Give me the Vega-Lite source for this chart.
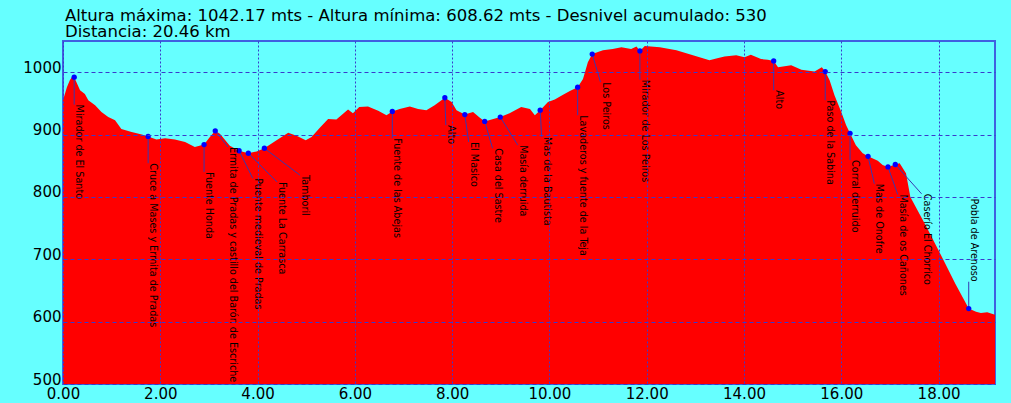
{
  "$schema": "https://vega.github.io/schema/vega-lite/v6.json",
  "width": 932,
  "height": 343,
  "autosize": {"type": "none"},
  "padding": {"left": 63, "top": 41, "right": 16, "bottom": 19},
  "background": "#66FFFF",
  "title": {
    "text": ["Altura máxima: 1042.17 mts - Altura mínima: 608.62 mts - Desnivel acumulado: 530", "Distancia: 20.46 km"],
    "anchor": "start",
    "frame": "group",
    "font": "DejaVu Sans",
    "fontSize": 16.5,
    "fontWeight": "normal",
    "color": "#000000",
    "lineHeight": 16.6,
    "offset": 0,
    "dx": 2
  },
  "config": {
    "view": {"stroke": "#4060E0", "strokeWidth": 2, "fill": null}
  },
  "datasets": {
    "profile": [
      {"km": 0.0, "elev": 955}, {"km": 0.08, "elev": 976}, {"km": 0.14, "elev": 987}, {"km": 0.21, "elev": 995},
      {"km": 0.27, "elev": 985}, {"km": 0.35, "elev": 971}, {"km": 0.45, "elev": 965}, {"km": 0.52, "elev": 955},
      {"km": 0.66, "elev": 947}, {"km": 0.79, "elev": 936}, {"km": 0.93, "elev": 928}, {"km": 1.07, "elev": 923},
      {"km": 1.2, "elev": 909}, {"km": 1.41, "elev": 904}, {"km": 1.62, "elev": 900}, {"km": 1.75, "elev": 897},
      {"km": 1.92, "elev": 892}, {"km": 2.1, "elev": 894}, {"km": 2.3, "elev": 892}, {"km": 2.51, "elev": 888},
      {"km": 2.71, "elev": 880}, {"km": 2.9, "elev": 884}, {"km": 3.02, "elev": 896}, {"km": 3.13, "elev": 906},
      {"km": 3.23, "elev": 901}, {"km": 3.43, "elev": 882}, {"km": 3.62, "elev": 874}, {"km": 3.81, "elev": 870},
      {"km": 3.98, "elev": 873}, {"km": 4.14, "elev": 878}, {"km": 4.39, "elev": 891}, {"km": 4.63, "elev": 903},
      {"km": 4.8, "elev": 898}, {"km": 4.99, "elev": 891}, {"km": 5.11, "elev": 896}, {"km": 5.28, "elev": 911},
      {"km": 5.45, "elev": 925}, {"km": 5.62, "elev": 924}, {"km": 5.86, "elev": 940}, {"km": 5.96, "elev": 934},
      {"km": 6.09, "elev": 944}, {"km": 6.27, "elev": 945}, {"km": 6.48, "elev": 938}, {"km": 6.65, "elev": 931},
      {"km": 6.77, "elev": 937}, {"km": 6.92, "elev": 941}, {"km": 7.13, "elev": 945}, {"km": 7.3, "elev": 941},
      {"km": 7.47, "elev": 939}, {"km": 7.64, "elev": 947}, {"km": 7.85, "elev": 959}, {"km": 7.99, "elev": 952},
      {"km": 8.09, "elev": 939}, {"km": 8.26, "elev": 932}, {"km": 8.43, "elev": 936}, {"km": 8.57, "elev": 927},
      {"km": 8.67, "elev": 921}, {"km": 8.81, "elev": 924}, {"km": 8.99, "elev": 928}, {"km": 9.18, "elev": 934},
      {"km": 9.42, "elev": 944}, {"km": 9.6, "elev": 941}, {"km": 9.7, "elev": 931}, {"km": 9.81, "elev": 939},
      {"km": 9.97, "elev": 952}, {"km": 10.11, "elev": 956}, {"km": 10.28, "elev": 964}, {"km": 10.42, "elev": 970},
      {"km": 10.58, "elev": 976}, {"km": 10.69, "elev": 989}, {"km": 10.79, "elev": 1016}, {"km": 10.88, "elev": 1029},
      {"km": 11.1, "elev": 1035}, {"km": 11.3, "elev": 1037}, {"km": 11.48, "elev": 1040}, {"km": 11.68, "elev": 1037},
      {"km": 11.79, "elev": 1041}, {"km": 11.86, "elev": 1034}, {"km": 11.96, "elev": 1042}, {"km": 12.27, "elev": 1040},
      {"km": 12.61, "elev": 1035}, {"km": 12.95, "elev": 1027}, {"km": 13.29, "elev": 1019}, {"km": 13.43, "elev": 1022},
      {"km": 13.6, "elev": 1025}, {"km": 13.84, "elev": 1027}, {"km": 14.01, "elev": 1024}, {"km": 14.14, "elev": 1028},
      {"km": 14.35, "elev": 1021}, {"km": 14.49, "elev": 1020}, {"km": 14.61, "elev": 1018}, {"km": 14.7, "elev": 1008},
      {"km": 14.97, "elev": 1011}, {"km": 15.18, "elev": 1004}, {"km": 15.45, "elev": 1001}, {"km": 15.6, "elev": 1008},
      {"km": 15.67, "elev": 1001}, {"km": 15.76, "elev": 987}, {"km": 15.86, "elev": 963}, {"km": 16.0, "elev": 936},
      {"km": 16.1, "elev": 915}, {"km": 16.18, "elev": 902}, {"km": 16.3, "elev": 883}, {"km": 16.44, "elev": 870},
      {"km": 16.55, "elev": 865}, {"km": 16.75, "elev": 858}, {"km": 16.85, "elev": 851}, {"km": 16.96, "elev": 848},
      {"km": 17.11, "elev": 852}, {"km": 17.2, "elev": 854}, {"km": 17.33, "elev": 838}, {"km": 17.42, "elev": 800},
      {"km": 17.75, "elev": 752}, {"km": 18.1, "elev": 699}, {"km": 18.35, "elev": 660}, {"km": 18.62, "elev": 621},
      {"km": 18.77, "elev": 616}, {"km": 18.87, "elev": 614}, {"km": 19.0, "elev": 615}, {"km": 19.16, "elev": 611}
    ],
    "pois": [
      {"name": "Mirador de El Santo", "km": 0.23, "elev": 992, "lkm": 0.23, "lelev": 948},
      {"name": "Cruce a Mases y Ermita de Pradas", "km": 1.75, "elev": 897, "lkm": 1.75, "lelev": 854},
      {"name": "Fuente Honda", "km": 2.9, "elev": 884, "lkm": 2.9, "lelev": 840},
      {"name": "Ermita de Pradas y castillo del Barón de Escriche", "km": 3.13, "elev": 906, "lkm": 3.39, "lelev": 880},
      {"name": "Puente medieval de Pradas", "km": 3.62, "elev": 874, "lkm": 3.9, "lelev": 830},
      {"name": "Fuente La Carrasca", "km": 3.81, "elev": 870, "lkm": 4.4, "lelev": 824},
      {"name": "Tamboril", "km": 4.14, "elev": 878, "lkm": 4.87, "lelev": 835},
      {"name": "Fuente de las Abejas", "km": 6.77, "elev": 937, "lkm": 6.77, "lelev": 894},
      {"name": "Alto", "km": 7.85, "elev": 959, "lkm": 7.87, "lelev": 915},
      {"name": "El Masico", "km": 8.26, "elev": 932, "lkm": 8.34, "lelev": 888},
      {"name": "Casa del Sastre", "km": 8.67, "elev": 921, "lkm": 8.83, "lelev": 878},
      {"name": "Masía derruida", "km": 8.99, "elev": 928, "lkm": 9.35, "lelev": 883},
      {"name": "Mas de la Bautista", "km": 9.81, "elev": 939, "lkm": 9.84, "lelev": 896},
      {"name": "Lavaderos y fuente de la Teja", "km": 10.58, "elev": 976, "lkm": 10.58, "lelev": 931},
      {"name": "Los Peiros", "km": 10.88, "elev": 1029, "lkm": 11.05, "lelev": 984},
      {"name": "Mirador de Los Peiros", "km": 11.86, "elev": 1034, "lkm": 11.86, "lelev": 988},
      {"name": "Alto", "km": 14.61, "elev": 1018, "lkm": 14.61, "lelev": 971},
      {"name": "Paso de la Sabina", "km": 15.67, "elev": 1001, "lkm": 15.67, "lelev": 955},
      {"name": "Corral derruido", "km": 16.18, "elev": 902, "lkm": 16.18, "lelev": 859},
      {"name": "Mas de Onofre", "km": 16.55, "elev": 865, "lkm": 16.68, "lelev": 821},
      {"name": "Masía de os Cañones", "km": 16.96, "elev": 848, "lkm": 17.16, "lelev": 804},
      {"name": "Caserío El Chorrico", "km": 17.11, "elev": 852, "lkm": 17.65, "lelev": 805},
      {"name": "Pobla de Arenoso", "km": 18.62, "elev": 621, "lkm": 18.62, "lelev": 664}
    ]
  },
  "layer": [
    {
      "data": {"name": "profile"},
      "mark": {"type": "area", "color": "#FF0000", "clip": true},
      "encoding": {
        "x": {
          "field": "km", "type": "quantitative",
          "scale": {"domain": [0, 19.16], "nice": false, "zero": false},
          "axis": {
            "values": [0, 2, 4, 6, 8, 10, 12, 14, 16, 18],
            "format": ".2f", "title": null, "ticks": false, "domain": false,
            "grid": true, "gridColor": "#3A3ACC", "gridDash": [2, 2], "gridWidth": 1, "gridOpacity": 1,
            "labelFont": "DejaVu Sans", "labelFontSize": 15, "labelColor": "#000000",
            "labelPadding": 2, "labelFlush": false, "labelOverlap": false, "zindex": 1
          }
        },
        "y": {
          "field": "elev", "type": "quantitative",
          "scale": {"domain": [500, 1050], "nice": false, "zero": false},
          "axis": {
            "values": [500, 600, 700, 800, 900, 1000],
            "format": "d",
            "title": null, "ticks": false, "domain": false,
            "grid": true, "gridColor": "#3A3ACC", "gridDash": [4, 3], "gridWidth": 1, "gridOpacity": 1,
            "labelFont": "DejaVu Sans", "labelFontSize": 15, "labelColor": "#000000",
            "labelBaseline": "alphabetic", "labelPadding": 2, "labelFlush": false, "labelOverlap": false, "zindex": 1
          }
        },
        "y2": {"datum": 500}
      }
    },
    {
      "data": {"name": "pois"},
      "mark": {"type": "rule", "color": "#3838B0", "strokeWidth": 1},
      "encoding": {
        "x": {"field": "km", "type": "quantitative"},
        "y": {"field": "elev", "type": "quantitative"},
        "x2": {"field": "lkm"},
        "y2": {"field": "lelev"}
      }
    },
    {
      "data": {"name": "pois"},
      "mark": {"type": "circle", "color": "#0000FF", "size": 28, "opacity": 1},
      "encoding": {
        "x": {"field": "km", "type": "quantitative"},
        "y": {"field": "elev", "type": "quantitative"}
      }
    },
    {
      "data": {"name": "pois"},
      "transform": [{"filter": "datum.lelev < datum.elev"}],
      "mark": {"type": "text", "angle": 90, "align": "left", "baseline": "bottom", "font": "DejaVu Sans Condensed", "fontSize": 10.7, "color": "#000000"},
      "encoding": {
        "x": {"field": "lkm", "type": "quantitative"},
        "y": {"field": "lelev", "type": "quantitative"},
        "text": {"field": "name"}
      }
    },
    {
      "data": {"name": "pois"},
      "transform": [{"filter": "datum.lelev > datum.elev"}],
      "mark": {"type": "text", "angle": 90, "align": "right", "baseline": "bottom", "font": "DejaVu Sans Condensed", "fontSize": 10.7, "color": "#000000"},
      "encoding": {
        "x": {"field": "lkm", "type": "quantitative"},
        "y": {"field": "lelev", "type": "quantitative"},
        "text": {"field": "name"}
      }
    }
  ]
}
